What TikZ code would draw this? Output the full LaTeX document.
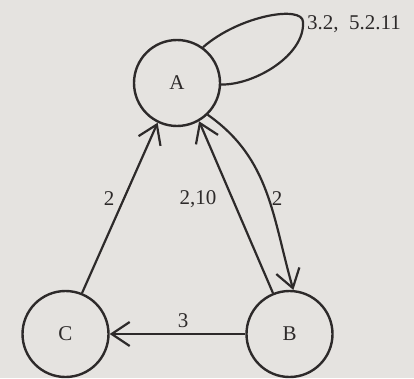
\documentclass[tikz,border=0pt]{standalone}
\usepackage{fontspec}
\setmainfont{Liberation Serif}
\usetikzlibrary{arrows.meta}
\definecolor{paper}{RGB}{229,227,224}
\definecolor{ink}{RGB}{45,42,42}
\begin{document}
\begin{tikzpicture}[x=1pt,y=1pt,
  state/.style={circle,draw=ink,line width=2.4pt,minimum size=86pt,inner sep=0pt,
    text=ink,font=\fontsize{21}{25}\selectfont},
  lbl/.style={text=ink,font=\fontsize{21}{25}\selectfont,inner sep=0pt},
  edge/.style={draw=ink,line width=2.2pt,-{Straight Barb[length=18pt,width=24pt,line width=2.2pt]}},
  plain/.style={draw=ink,line width=2.2pt}]
\fill[paper] (0,0) rectangle (414,378);
\useasboundingbox (0,0) rectangle (414,378);
\node[state] (A) at (177,295) {A};
\node[state] (C) at (65.5,44) {C};
\node[state] (B) at (289.5,44) {B};
% self loop
\draw[plain] (A.54) .. controls (240,363) and (303,373) .. (303,356)
  .. controls (305,323) and (255,293) .. (A.-2);
\node[lbl,anchor=west] (L) at (307,354) {3.2,\ \ 5.2.11};
% edges
\draw[edge] (C.68) -- (A.244);
\draw[edge] (B.112) -- (A.300);
\draw[edge] (A.314) to[out=-35,in=106] (B.85);
\draw[edge] (B.180) -- (C.0);
\node[lbl] (l1) at (109,179) {2};
\node[lbl] (l2) at (198,179) {2,10};
\node[lbl] (l3) at (277,179) {2};
\node[lbl] (l4) at (183,57) {3};
\end{tikzpicture}
\end{document}
